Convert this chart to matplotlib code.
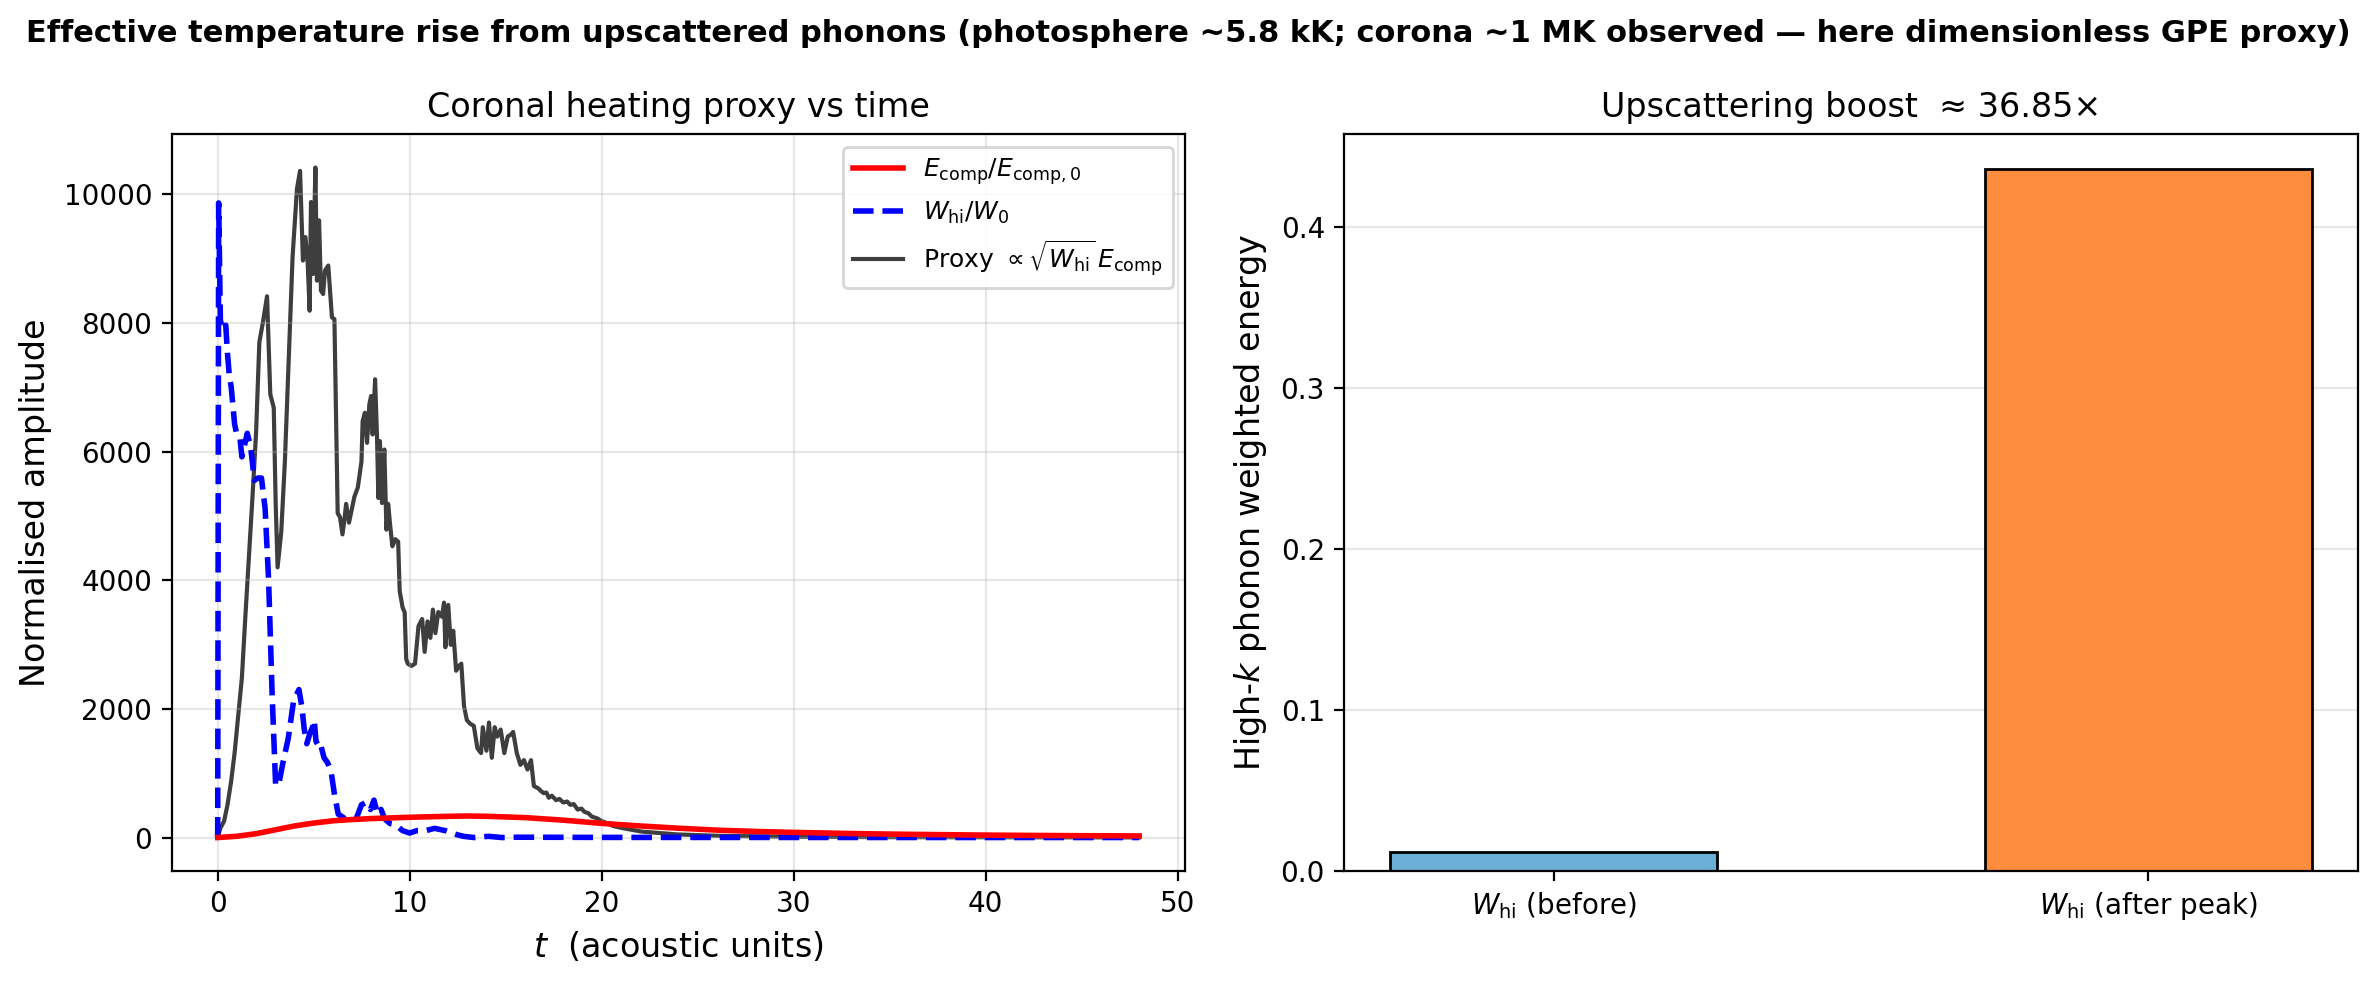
import matplotlib
matplotlib.use("Agg")
import matplotlib.pyplot as plt

# ---------------- data ----------------
t_ecomp = [0, 1, 2, 3, 4, 5, 6, 7, 8, 10, 12, 13, 14, 16, 18, 20, 22, 24, 26, 28,
           30, 33, 36, 40, 44, 48]
ecomp = [0, 20, 60, 120, 180, 225, 260, 280, 295, 315, 330, 335, 330, 310, 270, 220,
         180, 145, 115, 95, 80, 62, 50, 38, 30, 25]

t_whi = [0, 0.05, 0.14, 0.29, 0.42, 0.51, 0.61, 0.7, 0.88, 0.98, 1.16, 1.26, 1.54, 1.72,
         1.91, 2.09, 2.28, 2.47, 2.65, 2.84, 3.02, 3.21, 3.4, 3.67, 3.95, 4.23, 4.38,
         4.51, 4.64, 4.79, 4.94, 5.03, 5.12, 5.26, 5.35, 5.54, 5.72, 5.91, 6.09, 6.28,
         6.47, 6.65, 6.93, 7.21, 7.49, 7.73, 7.96, 8.14, 8.33, 8.51, 8.7, 8.98, 9.26,
         9.63, 10.0, 10.37, 10.84, 11.3, 11.86, 12.42, 12.8, 13.35, 14.1, 14.8, 15.6,
         20, 30, 40, 48]
whi = [0, 9865, 8036, 7890, 7964, 7525, 7160, 7014, 6430, 6284, 6210, 5918, 6284, 6064,
       5552, 5589, 5589, 5114, 4018, 2190, 801, 874, 1166, 1532, 2117, 2300, 2044,
       1679, 1459, 1606, 1715, 1825, 1496, 1423, 1459, 1240, 1166, 1020, 655, 363,
       326, 290, 326, 290, 509, 545, 436, 582, 363, 436, 290, 217, 202,
       107, 70, 107, 107, 143, 107, 48, 19, 0, 19, 0, 5,
       2, 1, 0, 0]

t_proxy = [0, 0.14, 0.33, 0.51, 0.7, 0.88, 1.07, 1.26, 1.44, 1.63, 1.82, 2.0, 2.17, 2.35,
           2.57, 2.74, 2.92, 3.02, 3.12, 3.31, 3.5, 3.65, 3.9, 4.13, 4.29, 4.44, 4.57,
           4.69, 4.79, 4.86, 4.97, 5.09, 5.17, 5.28, 5.38, 5.49, 5.59, 5.76, 5.95, 6.08,
           6.25, 6.37, 6.5, 6.61, 6.69, 6.84, 6.99, 7.12, 7.3, 7.49, 7.55, 7.67, 7.78,
           7.9, 7.99, 8.07, 8.2, 8.3, 8.37, 8.45, 8.56, 8.68, 8.79, 8.88, 8.97, 9.1,
           9.25, 9.4, 9.48, 9.63, 9.74, 9.82, 9.9, 10.09, 10.28, 10.46, 10.65, 10.78,
           10.93, 11.08, 11.21, 11.34, 11.49, 11.68, 11.79, 11.86, 12.01, 12.14, 12.27,
           12.42, 12.57, 12.69, 12.83, 12.98, 13.16, 13.34, 13.53, 13.72, 13.81, 14.0,
           14.13, 14.28, 14.43, 14.56, 14.74, 14.93, 15.11, 15.3, 15.39, 15.58, 15.77,
           15.95, 16.14, 16.32, 16.47, 16.7, 16.85, 16.98, 17.12, 17.25, 17.4, 17.63,
           17.8, 18.0, 18.2, 18.37, 18.55, 18.75, 18.95, 19.11, 19.3, 19.49, 19.75,
           20.04, 20.6, 21.16, 22.1, 23.0, 23.95, 26.2, 30, 35, 40, 48]
proxy = [0, 146, 252, 507, 873, 1312, 1897, 2482, 3432, 4383, 5333, 6300, 7700, 8000,
         8414, 6890, 6682, 5200, 4200, 4748, 5845, 7046, 9022, 10088, 10364, 8970, 9334,
         8918, 8190, 9880, 8762, 10416, 8658, 9594, 8502, 8450, 8814, 8892, 8086, 8060,
         5041, 4982, 4712, 4968, 5187, 4895, 5114, 5297, 5443, 5845, 6474, 6604, 6136,
         6734, 6864, 6266, 7124, 6214, 5278, 6162, 5200, 6032, 4786, 5187, 4894, 4528,
         4638, 4600, 3834, 3578, 3500, 2776, 2703, 2667, 2703, 3287, 3397, 2886,
         3360, 3104, 3543, 3177, 3506, 3433, 3652, 2958, 3616, 2996, 3214,
         2593, 2667, 2703, 2045, 1824, 1766, 1737, 1386, 1313, 1715, 1350,
         1788, 1240, 1715, 1569, 1679, 1313, 1569, 1606, 1642, 1313, 1130,
         1203, 1057, 1203, 801, 764, 720, 691, 700, 618, 650, 581,
         600, 545, 560, 508, 520, 435, 450, 398, 380, 325, 300,
         252, 179, 142, 92, 70, 48, 26, 12, 6, 4, 2]

bar_labels = [r'$W_{\rm hi}$ (before)', r'$W_{\rm hi}$ (after peak)']
bar_values = [0.01183, 0.436]
bar_colors = ['#6baed6', '#fd8d3c']
boost = 36.85

# ---------------- figure ----------------
fig = plt.figure(figsize=(2377 / 200, 984 / 200), dpi=200)
ax1 = fig.add_subplot(1, 2, 1)
ax2 = fig.add_subplot(1, 2, 2)
fig.subplots_adjust(left=0.0722, right=0.992, bottom=0.1148, top=0.8638, wspace=0.157)

ax1.plot(t_ecomp, ecomp, color='red', lw=2, label=r'$E_{\rm comp}/E_{\rm comp,0}$', zorder=3)
ax1.plot(t_whi, whi, color='blue', lw=2, ls='--', label=r'$W_{\rm hi}/W_0$', zorder=2)
ax1.plot(t_proxy, proxy, color='#333333', lw=1.5, alpha=0.95,
         label=r'Proxy $\propto\sqrt{W_{\rm hi}}\,E_{\rm comp}$', zorder=1)
ax1.set_xlabel(r'$t$  (acoustic units)', fontsize=12)
ax1.set_ylabel('Normalised amplitude', fontsize=12)
ax1.set_title('Coronal heating proxy vs time', fontsize=12)
ax1.grid(True, alpha=0.3)
ax1.legend(loc='upper right', fontsize=9)
ax1.set_xticks([0, 10, 20, 30, 40, 50])
ax1.set_yticks([0, 2000, 4000, 6000, 8000, 10000])

ax2.bar([0, 1], bar_values, width=0.55, color=bar_colors, edgecolor='black', linewidth=1)
ax2.set_xticks([0, 1])
ax2.set_xticklabels(bar_labels)
ax2.set_ylabel(r'High-$k$ phonon weighted energy', fontsize=12)
ax2.set_title('Upscattering boost  ≈ %.2f×' % boost, fontsize=12)
ax2.grid(True, axis='y', alpha=0.3)
ax2.set_axisbelow(True)

fig.suptitle('Effective temperature rise from upscattered phonons (photosphere ~5.8 kK; '
             'corona ~1 MK observed — here dimensionless GPE proxy)',
             fontsize=11, fontweight='bold', y=0.966, va='center')

fig.savefig('out.png', dpi=200)
